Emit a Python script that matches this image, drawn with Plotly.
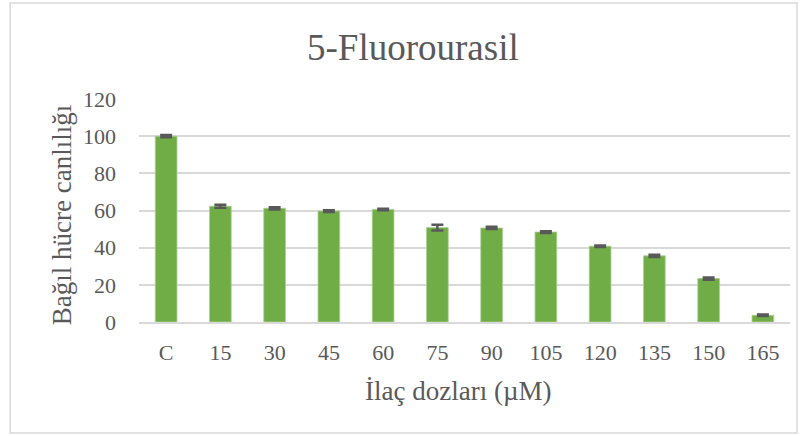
import plotly.graph_objects as go

# doz kategorileri ve ortalama canlılık değerleri
dozlar = ["C", "15", "30", "45", "60", "75", "90", "105", "120", "135", "150", "165"]
canlilik = [100.0, 62.3, 61.2, 59.7, 60.6, 50.8, 50.6, 48.4, 40.8, 35.6, 23.4, 3.6]
hata = [0.6, 0.8, 0.6, 0.5, 0.4, 1.5, 0.6, 0.5, 0.4, 0.6, 0.6, 0.4]
y_ticks = [0, 20, 40, 60, 80, 100, 120]

gri = "#595959"
font_adi = "Liberation Serif"

fig = go.Figure()
fig.add_trace(go.Bar(
    x=dozlar,
    y=canlilik,
    marker=dict(color="#70AD47", line=dict(color="#A9D18E", width=0.8)),
    error_y=dict(type="data", array=hata, visible=True,
                 color=gri, thickness=2.5, width=6),
))

fig.update_layout(
    width=807, height=436,
    paper_bgcolor="white", plot_bgcolor="white",
    margin=dict(l=139, r=17, t=99, b=114),
    bargap=0.6,
    showlegend=False,
    font=dict(family=font_adi, color=gri),
    xaxis=dict(
        tickfont=dict(size=22, color=gri),
        showline=True, linecolor="#D9D9D9", linewidth=1.5,
        ticks="", showgrid=False, ticklabelstandoff=10,
    ),
    yaxis=dict(
        range=[0, 120], tickvals=y_ticks,
        tickfont=dict(size=22, color=gri),
        showgrid=True, gridcolor="#D9D9D9", gridwidth=1.5,
        zeroline=False, showline=False, ticks="", ticklabelstandoff=22,
    ),
    shapes=[dict(type="rect", xref="paper", yref="paper",
                 x0=-0.198, x1=1.0108, y0=-0.498, y1=1.43,
                 line=dict(color="#D9D9D9", width=1.5))],
    annotations=[
        dict(text="5-Fluorourasil", xref="paper", yref="paper",
             x=0.421, y=1.233, xanchor="center", yanchor="middle",
             showarrow=False, font=dict(size=37, color=gri)),
        dict(text="İlaç dozları (µM)", xref="paper", yref="paper",
             x=0.49, y=-0.309, xanchor="center", yanchor="middle",
             showarrow=False, font=dict(size=27, color=gri)),
        dict(text="Bağıl hücre canlılığı", xref="paper", yref="paper",
             x=-0.118, y=0.48, xanchor="center", yanchor="middle",
             textangle=-90, showarrow=False, font=dict(size=27, color=gri)),
    ],
)

fig.write_html("out.html", config={"displayModeBar": False},
               post_script="document.body.style.margin='0';")
